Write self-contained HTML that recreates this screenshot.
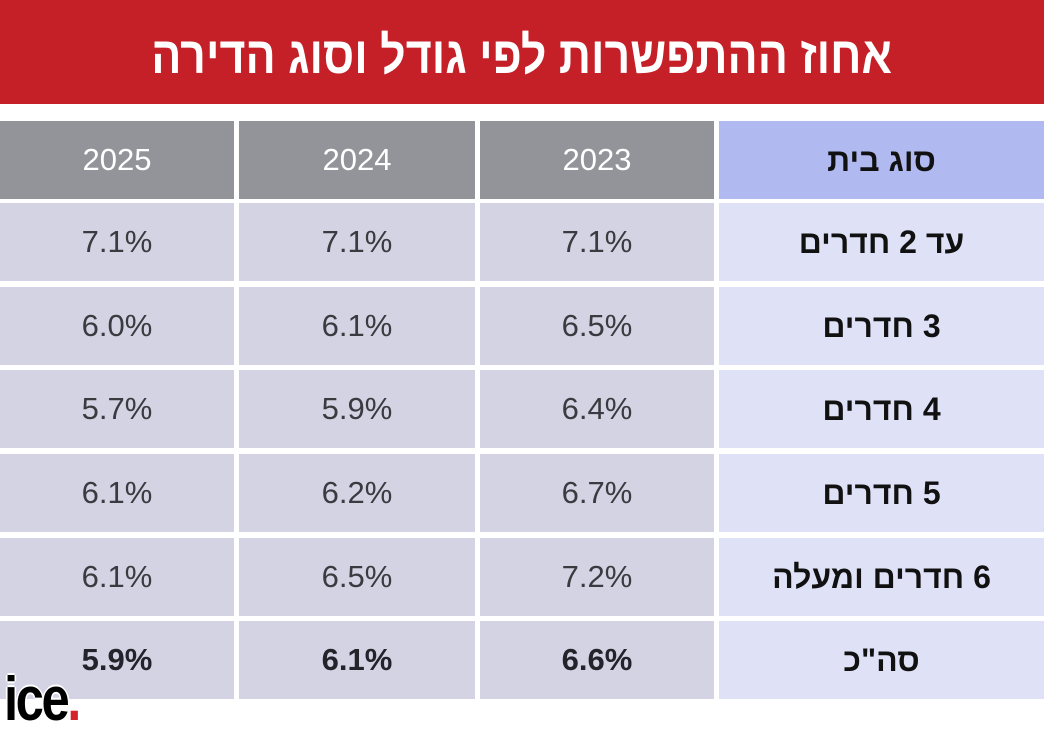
<!DOCTYPE html>
<html><head><meta charset="utf-8"><style>
body{margin:0;width:1044px;height:730px;background:#fff;position:relative;overflow:hidden;font-family:"Liberation Sans","DejaVu Sans",sans-serif}
.title{position:absolute;left:0;top:0;width:1044px;height:104px;background:#c52027;color:#fff;font-weight:bold;font-size:52px;text-align:center;line-height:112px;direction:rtl}
.title span{display:inline-block;transform:scaleX(0.86)}
.c{position:absolute;height:78px;display:flex;align-items:center;justify-content:center;font-size:31px;color:#3a3a40}
.g{background:#939499;color:#fff}
.b{background:#b0baf1;color:#111;font-weight:bold;direction:rtl;font-size:32px}
.l{background:#dfe2f7;color:#111;font-weight:bold;direction:rtl;font-size:32px}
.d{background:#d4d3e3}
.t{font-weight:bold;color:#23232c}
.logo{position:absolute;left:4px;top:664px;font-family:"Liberation Sans",sans-serif;font-weight:bold;font-size:62px;color:#000;letter-spacing:-3px;transform:scaleX(0.82);transform-origin:left;-webkit-text-stroke:0;text-shadow:2px 0 #fff,-2px 0 #fff,0 2px #fff,0 -2px #fff}
</style></head><body>
<div class="title"><span>אחוז ההתפשרות לפי גודל וסוג הדירה</span></div>
<div class="c g" style="left:0;width:234px;top:121px">2025</div>
<div class="c g" style="left:239px;width:236px;top:121px">2024</div>
<div class="c g" style="left:480px;width:234px;top:121px">2023</div>
<div class="c b" style="left:719px;width:325px;top:121px">סוג בית</div>

<div class="c d" style="left:0;width:234px;top:203px">7.1%</div>
<div class="c d" style="left:239px;width:236px;top:203px">7.1%</div>
<div class="c d" style="left:480px;width:234px;top:203px">7.1%</div>
<div class="c l" style="left:719px;width:325px;top:203px">עד 2 חדרים</div>

<div class="c d" style="left:0;width:234px;top:287px">6.0%</div>
<div class="c d" style="left:239px;width:236px;top:287px">6.1%</div>
<div class="c d" style="left:480px;width:234px;top:287px">6.5%</div>
<div class="c l" style="left:719px;width:325px;top:287px">3 חדרים</div>

<div class="c d" style="left:0;width:234px;top:370px">5.7%</div>
<div class="c d" style="left:239px;width:236px;top:370px">5.9%</div>
<div class="c d" style="left:480px;width:234px;top:370px">6.4%</div>
<div class="c l" style="left:719px;width:325px;top:370px">4 חדרים</div>

<div class="c d" style="left:0;width:234px;top:454px">6.1%</div>
<div class="c d" style="left:239px;width:236px;top:454px">6.2%</div>
<div class="c d" style="left:480px;width:234px;top:454px">6.7%</div>
<div class="c l" style="left:719px;width:325px;top:454px">5 חדרים</div>

<div class="c d" style="left:0;width:234px;top:538px">6.1%</div>
<div class="c d" style="left:239px;width:236px;top:538px">6.5%</div>
<div class="c d" style="left:480px;width:234px;top:538px">7.2%</div>
<div class="c l" style="left:719px;width:325px;top:538px">6 חדרים ומעלה</div>

<div class="c d t" style="left:0;width:234px;top:621px">5.9%</div>
<div class="c d t" style="left:239px;width:236px;top:621px">6.1%</div>
<div class="c d t" style="left:480px;width:234px;top:621px">6.6%</div>
<div class="c l" style="left:719px;width:325px;top:621px">סה"כ</div>

<div class="logo">ice<span style="color:#d6202a">.</span></div>
</body></html>
